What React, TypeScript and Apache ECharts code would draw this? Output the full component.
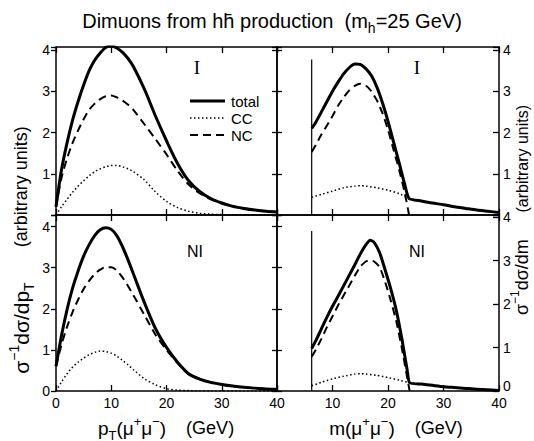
import React, { useEffect, useRef } from 'react';
import * as echarts from 'echarts';

const W = 534;
const H = 441;
const FONT = 'Liberation Sans';
const SERIF = 'Liberation Serif';

// ---------- Data: transverse momentum panels (GeV) ----------
const ptX = [0, 1, 2, 3, 4, 5, 6, 7, 8, 9, 10, 11, 12, 13, 14, 16, 18, 20, 22, 24, 26, 28, 30, 32, 34, 36, 38, 40];
// I (top-left)
const ptTotalI = [0.2, 1.1, 1.75, 2.3, 2.75, 3.15, 3.5, 3.75, 3.93, 4.06, 4.1, 4.05, 3.95, 3.8, 3.6, 3.05, 2.4, 1.8, 1.25, 0.83, 0.57, 0.4, 0.29, 0.21, 0.16, 0.12, 0.09, 0.07];
const ptCCI = [0, 0.2, 0.38, 0.55, 0.7, 0.83, 0.95, 1.05, 1.12, 1.17, 1.2, 1.2, 1.17, 1.12, 1.05, 0.85, 0.56, 0.33, 0.18, 0.09, 0.04, 0.02, 0.01, 0, 0, 0, 0, 0];
const ptNCI = [0.2, 0.9, 1.37, 1.75, 2.05, 2.32, 2.55, 2.7, 2.81, 2.88, 2.9, 2.85, 2.78, 2.68, 2.55, 2.2, 1.84, 1.47, 1.07, 0.74, 0.53, 0.38, 0.28, 0.21, 0.16, 0.12, 0.09, 0.07];
// NI (bottom-left)
const ptTotalNI = [0.6, 1.35, 1.98, 2.5, 2.92, 3.28, 3.56, 3.78, 3.92, 3.97, 3.93, 3.78, 3.52, 3.2, 2.85, 2.15, 1.52, 1.06, 0.7, 0.42, 0.29, 0.21, 0.16, 0.12, 0.09, 0.07, 0.05, 0.04];
const ptCCNI = [0, 0.22, 0.42, 0.58, 0.7, 0.8, 0.88, 0.94, 0.97, 0.96, 0.92, 0.85, 0.75, 0.64, 0.52, 0.3, 0.15, 0.06, 0.02, 0.01, 0, 0, 0, 0, 0, 0, 0, 0];
const ptNCNI = [0.6, 1.13, 1.56, 1.92, 2.22, 2.48, 2.68, 2.84, 2.95, 3.01, 3.01, 2.93, 2.77, 2.56, 2.33, 1.85, 1.37, 1.0, 0.68, 0.41, 0.29, 0.21, 0.16, 0.12, 0.09, 0.07, 0.05, 0.04];

// ---------- Data: invariant mass panels (GeV) ----------
const mThreshold = 6.25;
// I (top-right)
const mXI = [6.25, 7, 8, 9, 10, 11, 12, 13, 14, 15, 16, 17, 18, 19, 20, 21, 22, 23, 23.8, 26, 28, 30, 32, 34, 36, 38, 40];
const mTotalI = [2.1, 2.25, 2.5, 2.75, 3.0, 3.22, 3.42, 3.57, 3.66, 3.65, 3.55, 3.38, 3.1, 2.72, 2.27, 1.77, 1.27, 0.75, 0.4, 0.34, 0.29, 0.25, 0.2, 0.16, 0.12, 0.09, 0.06];
const mNCXI = [6.25, 7, 8, 9, 10, 11, 12, 13, 14, 15, 16, 17, 18, 19, 20, 21, 22, 23, 23.8];
const mNCI = [1.53, 1.7, 1.95, 2.17, 2.4, 2.65, 2.85, 3.02, 3.13, 3.18, 3.14, 3.0, 2.78, 2.47, 2.07, 1.58, 1.1, 0.55, 0];
const mCCXI = [6.25, 8, 10, 12, 14, 15, 16, 18, 20, 22, 23.8, 26, 28, 30, 32, 34, 36, 38, 40];
const mCCI = [0.43, 0.5, 0.58, 0.66, 0.7, 0.71, 0.7, 0.66, 0.6, 0.52, 0.4, 0.34, 0.29, 0.25, 0.2, 0.16, 0.12, 0.09, 0.06];
const mThresholdTopI = 3.77;
// NI (bottom-right)
const mXNI = [6.25, 7, 8, 9, 10, 11, 12, 13, 14, 15, 16, 16.8, 17.5, 18.5, 19.5, 20.5, 21.5, 22.5, 23.5, 23.9, 26, 28, 30, 32, 34, 36, 38, 40];
const mTotalNI = [0.98, 1.16, 1.43, 1.7, 1.95, 2.18, 2.42, 2.66, 2.9, 3.15, 3.36, 3.47, 3.42, 3.18, 2.78, 2.35, 1.85, 1.2, 0.45, 0.19, 0.16, 0.13, 0.1, 0.08, 0.06, 0.04, 0.03, 0.01];
const mNCXNI = [6.25, 7, 8, 9, 10, 11, 12, 13, 14, 15, 16, 16.8, 17.5, 18.5, 19.5, 20.5, 21.5, 22.5, 23.5, 23.9];
const mNCNI = [0.79, 0.95, 1.2, 1.47, 1.72, 1.97, 2.2, 2.42, 2.65, 2.86, 2.98, 3.01, 2.98, 2.85, 2.5, 2.08, 1.6, 0.98, 0.28, 0];
const mCCXNI = [6.25, 8, 10, 12, 14, 15, 16, 18, 20, 22, 23.9, 26, 28, 30, 32, 34, 36, 38, 40];
const mCCNI = [0.12, 0.2, 0.28, 0.34, 0.39, 0.4, 0.39, 0.36, 0.31, 0.25, 0.19, 0.16, 0.13, 0.1, 0.08, 0.06, 0.04, 0.03, 0.01];
const mThresholdTopNI = 3.68;

const legendNames = ['total', 'CC', 'NC'];
const xTicks = { min: 0, max: 40, interval: 10 };

function pairs(xs: number[], ys: number[]) {
  return xs.map((x, i) => [x, ys[i]]);
}

const styleOf: Record<string, any> = {
  total: { width: 3, type: 'solid' },
  NC: { width: 2, type: [8, 5] },
  CC: { width: 1.5, type: [1.5, 2.5] },
};

function curve(name: string, data: number[][], xi: number, yi: number, smooth: number) {
  return {
    type: 'line',
    name,
    data,
    xAxisIndex: xi,
    yAxisIndex: yi,
    symbol: 'none',
    smooth,
    silent: true,
    lineStyle: { color: '#000', ...styleOf[name] },
    itemStyle: { color: '#000' },
  };
}

function threshold(top: number, xi: number, yi: number) {
  return {
    type: 'line',
    name: 'threshold',
    data: [[mThreshold, 0], [mThreshold, top]],
    xAxisIndex: xi,
    yAxisIndex: yi,
    symbol: 'none',
    silent: true,
    lineStyle: { color: '#000', width: 1.2 },
  };
}

const lineSt = { color: '#000', width: 1.5 };
const tickSt = { color: '#000', width: 1.3 };

function xAx(grid: number, position: string, labels: boolean, hideZero: boolean) {
  return {
    type: 'value',
    gridIndex: grid,
    position,
    ...xTicks,
    axisLine: { show: true, onZero: false, lineStyle: lineSt },
    axisTick: { show: true, inside: true, length: 6, lineStyle: tickSt },
    axisLabel: labels
      ? {
          show: true,
          color: '#000',
          fontSize: 14,
          fontFamily: FONT,
          margin: 5,
          formatter: (v: number) => (hideZero && v === 0 ? '' : String(v)),
        }
      : { show: false },
    splitLine: { show: false },
  };
}

function yAx(grid: number, position: string, max: number, labels: boolean, hideZero: boolean, inside: boolean, len: number, liftZero = false) {
  return {
    type: 'value',
    gridIndex: grid,
    position,
    min: 0,
    max,
    interval: 1,
    axisLine: { show: true, onZero: false, lineStyle: lineSt },
    axisTick: { show: true, inside, length: len, lineStyle: tickSt },
    axisLabel: labels
      ? {
          show: true,
          color: '#000',
          fontSize: 14,
          fontFamily: FONT,
          margin: inside ? 4 : 6,
          formatter: (v: number) => {
            if (!Number.isInteger(v) || (hideZero && v === 0)) return '';
            if (liftZero && v === 0) return '{z|0}';
            return String(v);
          },
          rich: { z: { fontSize: 14, fontFamily: FONT, color: '#000', padding: [0, 0, 10, 0] } },
        }
      : { show: false },
    splitLine: { show: false },
  };
}

function richSet(math: number, small: number) {
  return {
    m: { fontSize: math, lineHeight: math + 4, fontFamily: FONT, fill: '#000' },
    sb: { fontSize: small, lineHeight: small, verticalAlign: 'bottom', fontFamily: FONT, fill: '#000' },
    sp: { fontSize: small, lineHeight: small, verticalAlign: 'top', fontFamily: FONT, fill: '#000' },
  };
}

function label(x: number, y: number, text: string, fontSize: number, opts: any = {}) {
  const math = opts.math || fontSize;
  const small = opts.small || Math.round(fontSize * 0.7);
  return {
    type: 'text',
    x,
    y,
    rotation: opts.rotation || 0,
    silent: true,
    style: {
      text,
      fontSize,
      fontFamily: opts.family || FONT,
      fill: '#000',
      align: opts.align || 'center',
      verticalAlign: 'middle',
      textAlign: opts.align || 'center',
      textVerticalAlign: 'middle',
      lineHeight: Math.max(fontSize, math) + 8,
      rich: richSet(math, small),
    },
  };
}

function legendRow(i: number) {
  const y = 101 + i * 17;
  const name = legendNames[i];
  const st = styleOf[name];
  return [
    {
      type: 'line',
      silent: true,
      shape: { x1: 190, y1: y, x2: 225, y2: y },
      style: {
        stroke: '#000',
        lineWidth: st.width,
        lineDash: Array.isArray(st.type) ? st.type : null,
      },
    },
    label(231, y, name, 15, { align: 'left' }),
  ];
}

export default function App() {
  const ref = useRef<HTMLDivElement>(null);
  useEffect(() => {
    const chart = echarts.init(ref.current as HTMLDivElement, null, { renderer: 'svg' });
    const option: any = {
      animation: false,
      backgroundColor: '#fff',
      textStyle: { fontFamily: FONT },
      grid: [
        { left: 56, top: 47, width: 221, height: 168 },
        { left: 277, top: 47, width: 222, height: 168 },
        { left: 56, top: 215, width: 221, height: 176 },
        { left: 277, top: 215, width: 222, height: 176 },
      ],
      xAxis: [
        xAx(0, 'bottom', false, false),
        xAx(0, 'top', false, false),
        xAx(1, 'bottom', false, false),
        xAx(1, 'top', false, false),
        xAx(2, 'bottom', true, false),
        xAx(2, 'top', false, false),
        xAx(3, 'bottom', true, true),
        xAx(3, 'top', false, false),
      ],
      yAxis: [
        yAx(0, 'left', 4.073, true, true, false, 5),
        yAx(0, 'right', 4.073, false, false, true, 5),
        yAx(1, 'right', 4.073, true, true, true, 6),
        yAx(1, 'left', 4.073, false, false, true, 5),
        yAx(2, 'left', 4.28, true, false, false, 5),
        yAx(2, 'right', 4.28, false, false, true, 5),
        yAx(3, 'right', 4.05, true, false, true, 6, true),
        yAx(3, 'left', 4.28, false, false, true, 5),
      ],
      series: [
        curve('total', pairs(ptX, ptTotalI), 0, 0, 0.3),
        curve('CC', pairs(ptX, ptCCI), 0, 0, 0.3),
        curve('NC', pairs(ptX, ptNCI), 0, 0, 0.3),
        curve('total', pairs(mXI, mTotalI), 2, 2, 0.2),
        curve('CC', pairs(mCCXI, mCCI), 2, 2, 0.2),
        curve('NC', pairs(mNCXI, mNCI), 2, 2, 0.2),
        threshold(mThresholdTopI, 2, 2),
        curve('total', pairs(ptX, ptTotalNI), 4, 4, 0.3),
        curve('CC', pairs(ptX, ptCCNI), 4, 4, 0.3),
        curve('NC', pairs(ptX, ptNCNI), 4, 4, 0.3),
        curve('total', pairs(mXNI, mTotalNI), 6, 6, 0.2),
        curve('CC', pairs(mCCXNI, mCCNI), 6, 6, 0.2),
        curve('NC', pairs(mNCXNI, mNCNI), 6, 6, 0.2),
        threshold(mThresholdTopNI, 6, 6),
      ],
      graphic: [
        label(272, 21, 'Dimuons from hh\u0304 production  (m{sb|h}=25 GeV)', 20, { small: 14 }),
        label(166, 428, '{m|p}{sb|T}{m|(\u03bc}{sp|+}{m|\u03bc}{sp|\u2212}{m|)}    (GeV)', 18, { math: 19, small: 13 }),
        label(396, 428, '{m|m(\u03bc}{sp|+}{m|\u03bc}{sp|\u2212}{m|)}    (GeV)', 18, { math: 19, small: 13 }),
        label(21, 250, '{m|\u03c3}{sp|\u22121}{m|d\u03c3/dp}{sb|T}       (arbitrary units)', 18, { math: 21, small: 14, rotation: Math.PI / 2 }),
        label(522, 210, '{m|\u03c3}{sp|\u22121}{m|d\u03c3/dm}      (arbitrary units)', 16, { math: 18, small: 12, rotation: Math.PI / 2 }),
        label(197, 67, 'I', 19, { family: SERIF }),
        label(417, 67, 'I', 19, { family: SERIF }),
        label(195, 251, 'NI', 16),
        label(417, 251, 'NI', 16),
        ...legendRow(0),
        ...legendRow(1),
        ...legendRow(2),
      ],
    };
    chart.setOption(option);
    return () => chart.dispose();
  }, []);
  return (
    <div
      ref={ref}
      style={{ position: 'fixed', left: 0, top: 0, width: W, height: H, background: '#fff' }}
    />
  );
}
